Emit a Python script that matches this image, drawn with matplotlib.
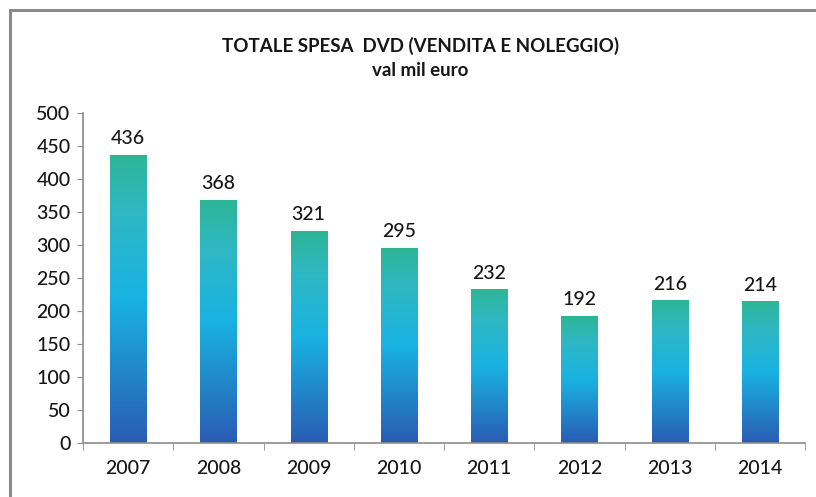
import numpy as np
import matplotlib
matplotlib.use("Agg")
import matplotlib.pyplot as plt
from matplotlib.colors import LinearSegmentedColormap
from matplotlib.patches import Rectangle

years = ["2007", "2008", "2009", "2010", "2011", "2012", "2013", "2014"]
spesa = [436, 368, 321, 295, 232, 192, 216, 214]
yticks = [0, 50, 100, 150, 200, 250, 300, 350, 400, 450, 500]

plt.rcParams["font.family"] = ["Lato", "DejaVu Sans"]
AXIS_C = "#8c8c8c"
TXT_C = "#161616"
cmap = LinearSegmentedColormap.from_list(
    "dvd", [(0.0, "#2a5cb3"), (0.5, "#19b2e2"), (0.8, "#2fb8c4"), (1.0, "#2db596")])

fig = plt.figure(figsize=(8.16, 4.97), dpi=100)
fig.patches.append(Rectangle((10 / 816, -0.1), 1.2, 1 - 10 / 497 + 0.1,
                             transform=fig.transFigure, fill=False,
                             edgecolor="#8a8a8a", lw=2.2))
ax = fig.add_axes([83 / 816, 54 / 497, 722 / 816, 330 / 497])

x = np.arange(len(years))
w = 0.4
grad = np.linspace(0, 1, 256).reshape(-1, 1)
for xi, v in zip(x, spesa):
    ax.imshow(grad, cmap=cmap, origin="lower", aspect="auto",
              extent=(xi - w / 2, xi + w / 2, 0, v), zorder=2)
    ax.text(xi, v + 12, str(v), ha="center", va="bottom", fontsize=14,
            fontweight="medium", color=TXT_C)

ax.set_xlim(-0.5, len(years) - 0.5)
ax.set_ylim(0, 500)
ax.set_yticks(yticks)
ax.set_yticklabels([str(t) for t in yticks], fontsize=14, fontweight="medium", color=TXT_C)
ax.set_xticks(x)
ax.set_xticklabels(years, fontsize=14, fontweight="medium", color=TXT_C)
ax.set_xticks(np.arange(-0.5, len(years)), minor=True)
ax.tick_params(axis="x", which="major", length=0, pad=12)
ax.tick_params(axis="x", which="minor", length=5, color=AXIS_C, direction="out")
ax.tick_params(axis="y", length=4, color=AXIS_C, direction="out", pad=5)
for sp in ["top", "right"]:
    ax.spines[sp].set_visible(False)
for sp in ["left", "bottom"]:
    ax.spines[sp].set_color(AXIS_C)
    ax.spines[sp].set_linewidth(1.2)

fig.text(0.515, 1 - 46 / 497, "TOTALE SPESA  DVD (VENDITA E NOLEGGIO)", ha="center",
         va="center", fontsize=13.5, fontweight="bold", color=TXT_C)
fig.text(0.515, 1 - 71 / 497, "val mil euro", ha="center", va="center",
         fontsize=13.5, fontweight="bold", color=TXT_C)

fig.savefig("out.png", dpi=100)
